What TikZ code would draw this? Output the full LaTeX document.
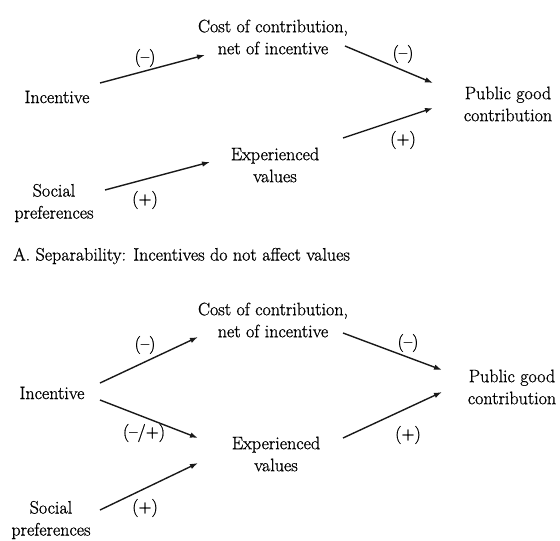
\documentclass[tikz,border=0pt]{standalone}
\usepackage{fontspec}
\setmainfont{Latin Modern Roman}[FakeBold=0.9]
\usetikzlibrary{arrows.meta}
\tikzset{
  txt/.style={inner sep=0pt, align=center, text=black,
    font=\fontsize{18}{22}\selectfont},
  sign/.style={inner sep=0pt, text=black,
    font=\fontsize{18}{22}\selectfont},
  arr/.style={draw=black!90, line width=1.4pt,
    -{Latex[length=8pt,width=5.5pt]}}
}
\begin{document}
\begin{tikzpicture}[x=1pt,y=-1pt]
\useasboundingbox[fill=white] (0,0) rectangle (560,541);

% ---- Panel A: separability ----
\node[txt] (costA) at (273,37) {Cost of contribution,\\net of incentive};
\node[txt] (incA)  at (57,97)  {Incentive};
\node[txt] (expA)  at (275,165) {Experienced\\values};
\node[txt] (socA)  at (54,203) {Social\\preferences};
\node[txt] (pubA)  at (508,104) {Public good\\contribution};
\node[txt, anchor=west] (capA) at (13,256)
  {A. Separability: Incentives do not affect values};

\coordinate (incA-o) at (100,83);
\coordinate (costA-i) at (205,55);
\coordinate (costA-o) at (345,46);
\coordinate (pubA-i1) at (433,83);
\coordinate (socA-o) at (105,190);
\coordinate (expA-i) at (210,162);
\coordinate (expA-o) at (343,138);
\coordinate (pubA-i2) at (433,108);

\draw[arr] (incA-o) -- (costA-i);
\draw[arr] (costA-o) -- (pubA-i1);
\draw[arr] (socA-o) -- (expA-i);
\draw[arr] (expA-o) -- (pubA-i2);

\node[sign] (sA1) at (145,58)  {(--)};
\node[sign] (sA2) at (403,54)  {(--)};
\node[sign] (sA3) at (145,200) {(+)};
\node[sign] (sA4) at (403,140) {(+)};

% ---- Panel B: incentives affect values ----
\node[txt] (costB) at (273,320) {Cost of contribution,\\net of incentive};
\node[txt] (incB)  at (52,393)  {Incentive};
\node[txt] (expB)  at (276,454) {Experienced\\values};
\node[txt] (socB)  at (51,520)  {Social\\preferences};
\node[txt] (pubB)  at (512,387) {Public good\\contribution};

\coordinate (incB-o1) at (100,383);
\coordinate (costB-i) at (198,337);
\coordinate (incB-o2) at (100,400);
\coordinate (expB-i1) at (198,438);
\coordinate (socB-o) at (100,510);
\coordinate (expB-i2) at (198,463);
\coordinate (costB-o) at (343,333);
\coordinate (pubB-i1) at (442,370);
\coordinate (expB-o) at (343,438);
\coordinate (pubB-i2) at (442,392);

\draw[arr] (incB-o1) -- (costB-i);
\draw[arr] (incB-o2) -- (expB-i1);
\draw[arr] (socB-o) -- (expB-i2);
\draw[arr] (costB-o) -- (pubB-i1);
\draw[arr] (expB-o) -- (pubB-i2);

\node[sign] (sB1) at (145,345) {(--)};
\node[sign] (sB2) at (144,433) {(--/+)};
\node[sign] (sB3) at (145,508) {(+)};
\node[sign] (sB4) at (408,343) {(--)};
\node[sign] (sB5) at (408,435) {(+)};
\end{tikzpicture}
\end{document}
